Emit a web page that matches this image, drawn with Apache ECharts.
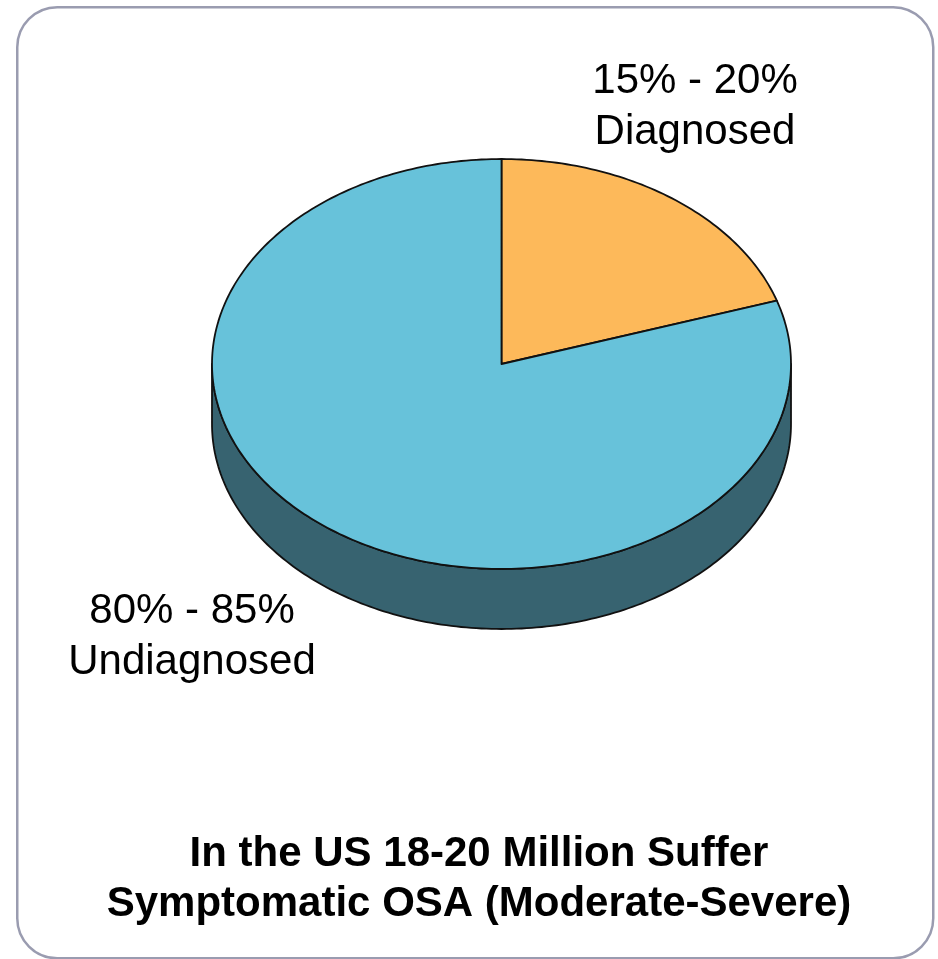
<!DOCTYPE html>
<html>
<head>
<meta charset="utf-8">
<script src="https://cdn.jsdelivr.net/npm/echarts@6/dist/echarts.min.js"></script>
<style>
html,body{margin:0;padding:0;background:#fff;}
#chart{width:938px;height:959px;}
</style>
</head>
<body>
<div id="chart"></div>
<script>
// ---- data ----
const categories = ['Diagnosed', 'Undiagnosed'];
const values = [20, 80];
const labelLines = [['15% - 20%', 'Diagnosed'], ['80% - 85%', 'Undiagnosed']];
const titleLines = ['In the US 18-20 Million Suffer', 'Symptomatic OSA (Moderate-Severe)'];

// ---- styles ----
const topColors = ['#FDB95A', '#67C2DA'];
const sideColors = ['#A8752F', '#376370'];
const CX = 501.5, CY = 364, RX = 289.5, RY = 205, DEPTH = 60;

const total = values.reduce((a, b) => a + b, 0);
function pt(deg, dy) {
  const r = deg * Math.PI / 180;
  return [CX + RX * Math.cos(r), CY - RY * Math.sin(r) + (dy || 0)];
}
function arc(a, b, dy) {
  const pts = [];
  const n = Math.max(8, Math.ceil(Math.abs(b - a) / 1));
  for (let i = 0; i <= n; i++) pts.push(pt(a + (b - a) * i / n, dy));
  return pts;
}

function renderItem(params, api) {
  const idx = params.dataIndex;
  let cum = 0;
  for (let i = 0; i < idx; i++) cum += values[i];
  const v = api.value(0);
  const start = 90 - 360 * cum / total;
  const end = start - 360 * v / total;
  const children = [];
  for (let k = -1; k <= 1; k++) {
    const lo = -180 + 360 * k, hi = 360 * k;
    const a = Math.min(start, hi), b = Math.max(end, lo);
    if (a > b) {
      const top = arc(a, b, 0);
      const bot = arc(b, a, DEPTH);
      children.push({
        type: 'polygon',
        shape: { points: top.concat(bot) },
        style: { fill: sideColors[idx], stroke: '#111', lineWidth: 1.8, lineJoin: 'round' },
        z2: 1
      });
    }
  }
  const facePts = [[CX, CY]].concat(arc(start, end, 0));
  children.push({
    type: 'polygon',
    shape: { points: facePts },
    style: { fill: topColors[idx], stroke: '#111', lineWidth: 1.8, lineJoin: 'round' },
    z2: 2
  });
  return { type: 'group', children: children };
}

const labelPos = [[695, 107], [192, 637]];
const graphics = [
  {
    type: 'rect', left: 16, top: 6, z: -1,
    shape: { x: 0, y: 0, width: 916, height: 951, r: 40 },
    style: { fill: '#fff', stroke: '#9A9CB0', lineWidth: 2.5 }
  }
];
labelLines.forEach((lines, i) => {
  graphics.push({
    type: 'text', x: labelPos[i][0], y: labelPos[i][1], z: 10,
    style: {
      text: lines.join('\n'), fill: '#000',
      font: '42px "Liberation Sans", Arial, sans-serif',
      align: 'center', verticalAlign: 'middle', lineHeight: 51
    }
  });
});
graphics.push({
  type: 'text', x: 479, y: 879, z: 10,
  style: {
    text: titleLines.join('\n'), fill: '#000',
    font: 'bold 42px "Liberation Sans", Arial, sans-serif',
    align: 'center', verticalAlign: 'middle', lineHeight: 50
  }
});

const chart = echarts.init(document.getElementById('chart'), null, { renderer: 'canvas' });
chart.setOption({
  backgroundColor: '#fff',
  animation: false,
  graphic: graphics,
  series: [{
    type: 'custom',
    coordinateSystem: 'none',
    renderItem: renderItem,
    data: values.map((v, i) => ({ name: categories[i], value: v }))
  }]
});
</script>
</body>
</html>
